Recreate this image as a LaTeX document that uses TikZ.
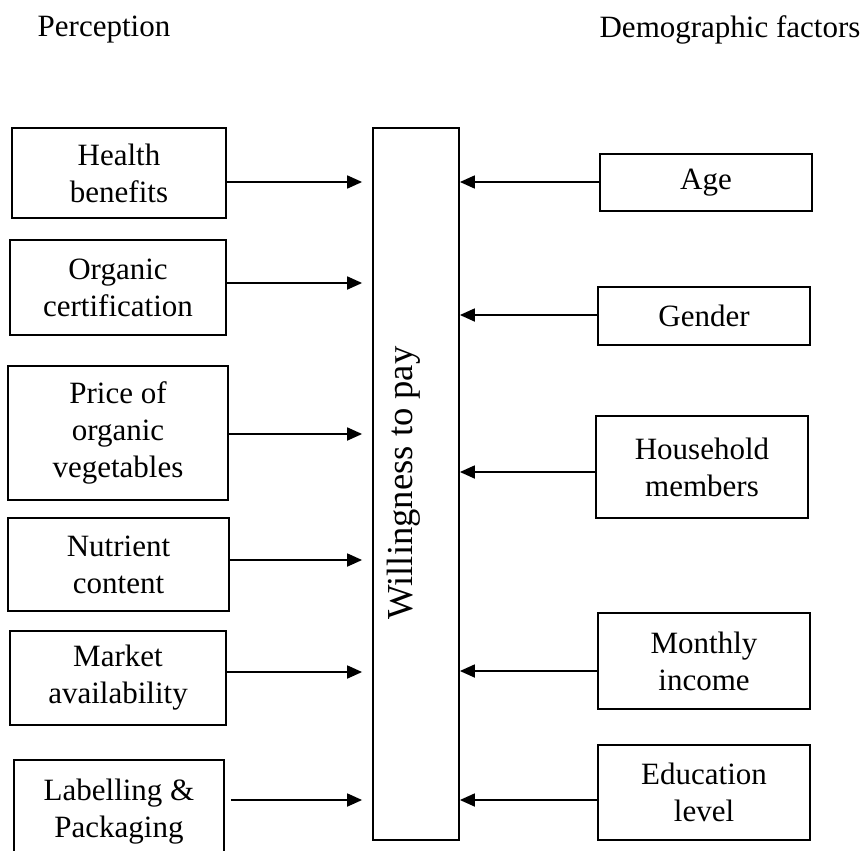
\documentclass[tikz,border=0pt]{standalone}
\usepackage{fontspec}
\setmainfont{Liberation Serif}
\usetikzlibrary{arrows.meta}

\tikzset{
  factor/.style={draw, line width=0.9pt, inner sep=0pt, align=center,
    font=\fontsize{15.5}{18.5}\selectfont},
  pil/.style={-{Triangle[length=7.5pt,width=6.5pt]}, line width=0.9pt},
}

\begin{document}
\begin{tikzpicture}[x=0.5pt,y=-0.5pt]
    \useasboundingbox (0,0) rectangle (866,850);
    \clip (0,0) rectangle (866,850);
    % headings
    \node[font=\fontsize{15.5}{18.5}\selectfont] (perc) at (104,30) {Perception};
    \node[font=\fontsize{15.5}{18.5}\selectfont] (demo) at (730,30) {Demographic factors};
    % centre
    \node[factor, minimum width=43pt, minimum height=356pt] (wtp) at (416,484) {};
    \node[rotate=90, font=\fontsize{18.3}{22}\selectfont] (wtplabel) at (404,483) {Willingness to pay};
    % perception side
    \node[factor, minimum width=107pt, minimum height=45pt] (health) at (119,173) {Health\\benefits};
    \node[factor, minimum width=108pt, minimum height=47.5pt] (cert) at (118,287.5) {Organic\\certification};
    \node[factor, minimum width=110pt, minimum height=67pt] (price) at (118,433) {Price of\\organic\\vegetables};
    \node[factor, minimum width=110.5pt, minimum height=46.5pt] (nutr) at (118.5,564.5) {Nutrient\\content};
    \node[factor, minimum width=108pt, minimum height=47pt] (market) at (118,678) {Market\\availability};
    \node[factor, minimum width=105pt, minimum height=52pt] (label) at (119,812) {Labelling \&\\Packaging};
    % demographic side
    \node[factor, minimum width=106pt, minimum height=28.5pt] (age) at (706,182.5) {Age};
    \node[factor, minimum width=106pt, minimum height=29pt] (gender) at (704,316) {Gender};
    \node[factor, minimum width=106pt, minimum height=51pt] (house) at (702,467) {Household\\members};
    \node[factor, minimum width=106pt, minimum height=48pt] (income) at (704,661) {Monthly\\income};
    \node[factor, minimum width=106pt, minimum height=47.5pt] (edu) at (704,792.5) {Education\\level};
    % arrows
    \draw[pil, shorten >=5pt] (health.east |- 0,182) -- (wtp.west |- 0,182);
    \draw[pil, shorten >=5pt] (cert.east |- 0,283) -- (wtp.west |- 0,283);
    \draw[pil, shorten >=5pt] (price.east |- 0,434) -- (wtp.west |- 0,434);
    \draw[pil, shorten >=5pt] (nutr.east |- 0,560) -- (wtp.west |- 0,560);
    \draw[pil, shorten >=5pt] (market.east |- 0,672) -- (wtp.west |- 0,672);
    \draw[pil, shorten >=5pt, shorten <=3pt] (label.east |- 0,800) -- (wtp.west |- 0,800);
    \draw[pil] (age.west |- 0,182) -- (wtp.east |- 0,182);
    \draw[pil] (gender.west |- 0,315) -- (wtp.east |- 0,315);
    \draw[pil] (house.west |- 0,472) -- (wtp.east |- 0,472);
    \draw[pil] (income.west |- 0,671) -- (wtp.east |- 0,671);
    \draw[pil] (edu.west |- 0,800) -- (wtp.east |- 0,800);
\end{tikzpicture}
\end{document}
